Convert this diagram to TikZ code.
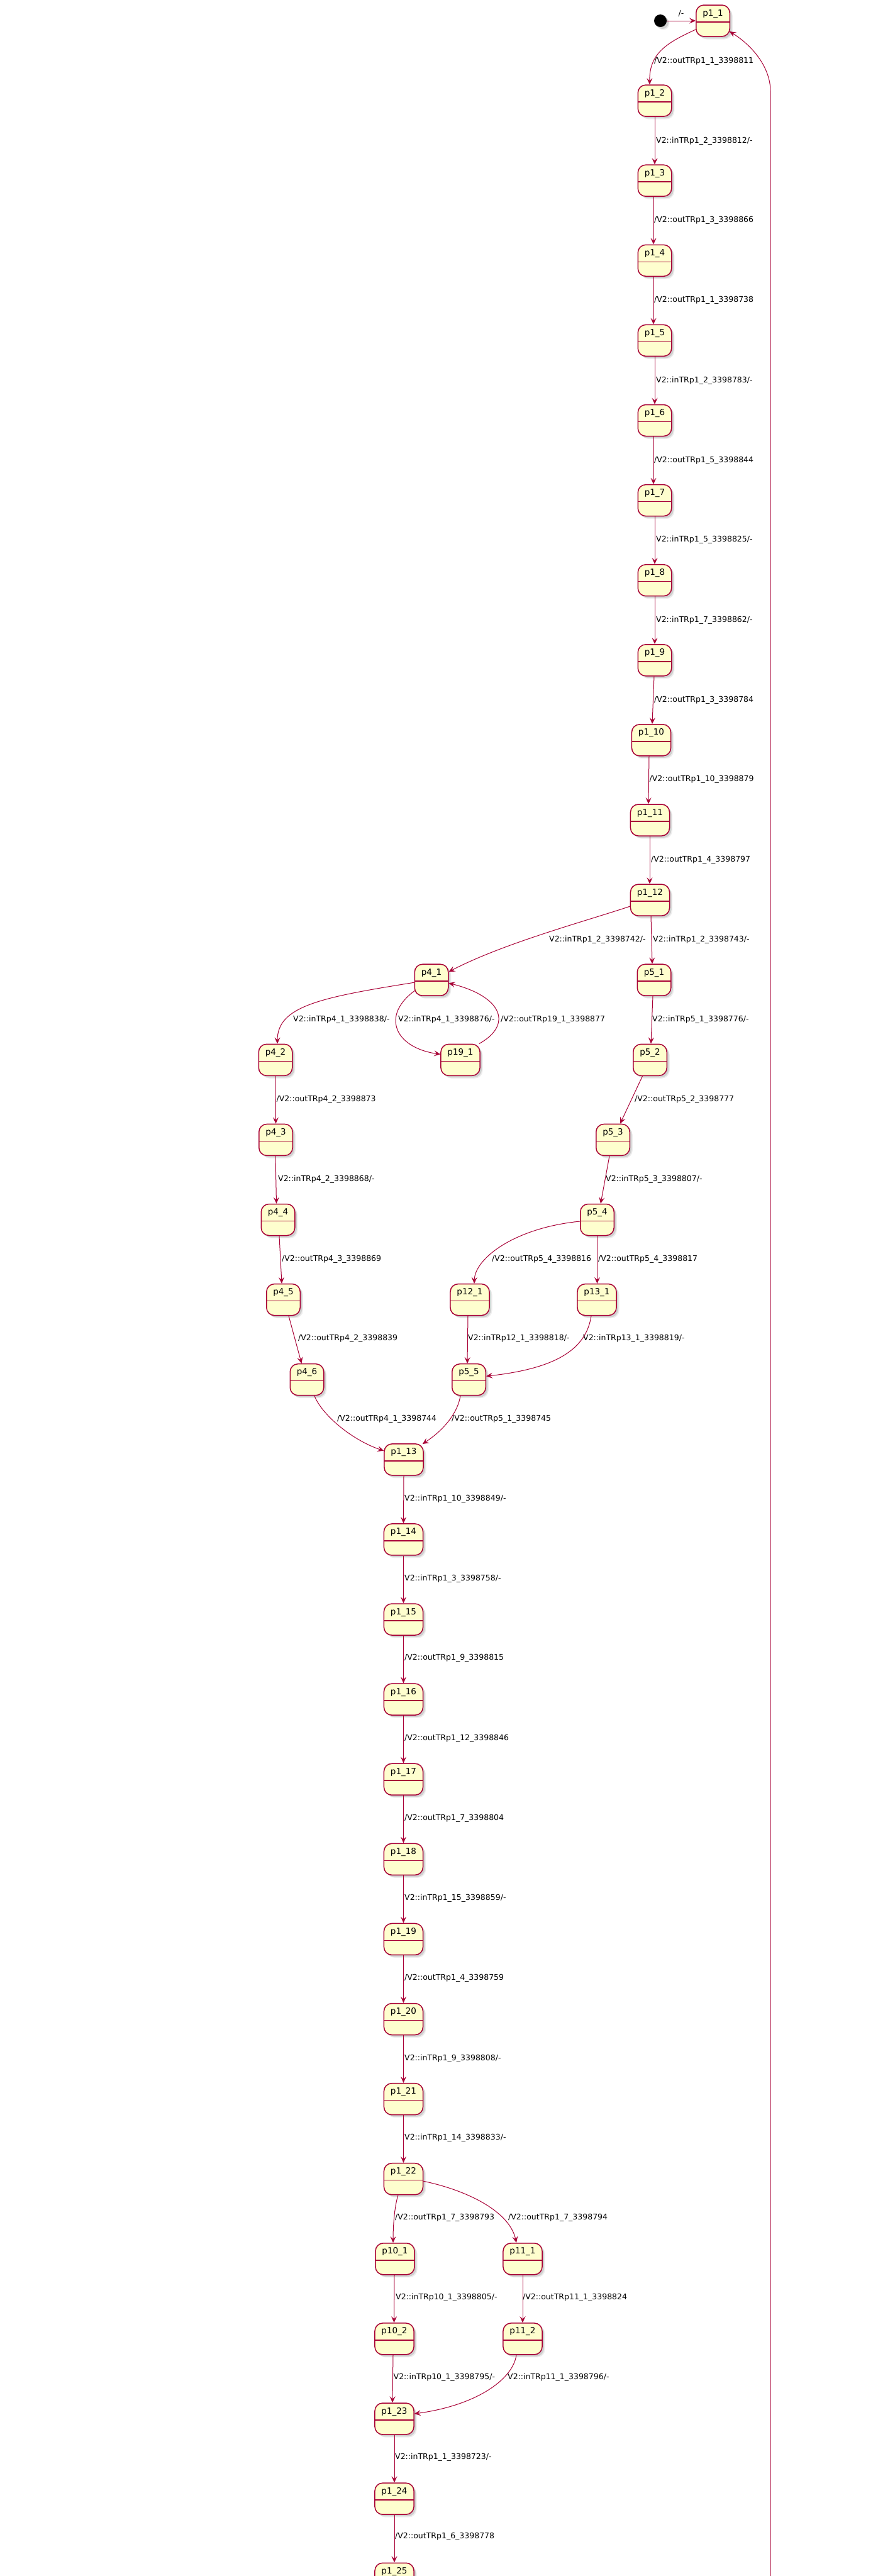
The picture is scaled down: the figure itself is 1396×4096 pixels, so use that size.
\documentclass[tikz,border=0pt]{standalone}
\usepackage{fontspec}
\setmainfont{DejaVu Sans}
\usetikzlibrary{arrows.meta,shadows}
\definecolor{umlred}{HTML}{A80036}
\definecolor{umlfill}{HTML}{FEFECE}

\tikzset{
  softshadow/.style={
    drop shadow={shadow xshift=4.5pt, shadow yshift=-4.5pt, fill=black, opacity=0.07},
    drop shadow={shadow xshift=3pt, shadow yshift=-3pt, fill=black, opacity=0.12}},
  umlstate/.style={draw=umlred, line width=1.5pt, fill=umlfill, rounded corners=12.5pt,
    inner xsep=10.5pt, inner ysep=0pt, text height=17pt, text depth=33pt,
    font=\fontsize{13.5}{16}\selectfont, softshadow,
    path picture={\draw[umlred, line width=1.5pt]
      ([yshift=-27pt]path picture bounding box.north west) --
      ([yshift=-27pt]path picture bounding box.north east);}},
  startdot/.style={circle, fill=black, minimum size=20pt, inner sep=0pt, softshadow},
  trans/.style={draw=umlred, line width=1pt, -{Stealth[length=10pt, width=9pt, inset=4pt]}},
  tlabel/.style={anchor=west, inner sep=0pt, font=\fontsize{12.5}{15}\selectfont,
    text height=9.5pt, text depth=2.5pt},
}

\begin{document}
\begin{tikzpicture}[x=1pt, y=-1pt]
\useasboundingbox (0,0) rectangle (1396,4096);
\fill[white] (0,0) rectangle (1396,4096);
\clip (0,0) rectangle (1396,4096);

% ---------- states ----------
\node[startdot] (start) at (1050,33) {};
\node[umlstate] (p1-1)  at (1133.5,33)    {p1\_1};
\node[umlstate] (p1-2)  at (1041,160.1)   {p1\_2};
\node[umlstate] (p1-3)  at (1041,287.2)   {p1\_3};
\node[umlstate] (p1-4)  at (1041,414.3)   {p1\_4};
\node[umlstate] (p1-5)  at (1041,541.4)   {p1\_5};
\node[umlstate] (p1-6)  at (1041,668.5)   {p1\_6};
\node[umlstate] (p1-7)  at (1041,795.6)   {p1\_7};
\node[umlstate] (p1-8)  at (1041,922.7)   {p1\_8};
\node[umlstate] (p1-9)  at (1041,1049.8)  {p1\_9};
\node[umlstate] (p1-10) at (1035.5,1176.9) {p1\_10};
\node[umlstate] (p1-11) at (1033.5,1304)  {p1\_11};
\node[umlstate] (p1-12) at (1033.5,1431.1) {p1\_12};
\node[umlstate] (p4-1)  at (686,1558.2)   {p4\_1};
\node[umlstate] (p5-1)  at (1040,1558.2)  {p5\_1};
\node[umlstate] (p4-2)  at (438,1685.3)   {p4\_2};
\node[umlstate] (p19-1) at (732,1685.3)   {p19\_1};
\node[umlstate] (p5-2)  at (1033.5,1685.3) {p5\_2};
\node[umlstate] (p4-3)  at (438.5,1812.4) {p4\_3};
\node[umlstate] (p5-3)  at (974.5,1812.4) {p5\_3};
\node[umlstate] (p4-4)  at (442,1939.5)   {p4\_4};
\node[umlstate] (p5-4)  at (949.5,1939.5) {p5\_4};
\node[umlstate] (p4-5)  at (450.5,2066.6) {p4\_5};
\node[umlstate] (p12-1) at (747,2066.6)   {p12\_1};
\node[umlstate] (p13-1) at (949,2066.6)   {p13\_1};
\node[umlstate] (p4-6)  at (488,2193.7)   {p4\_6};
\node[umlstate] (p5-5)  at (745.5,2193.7) {p5\_5};
\node[umlstate] (p1-13) at (642,2320.8)   {p1\_13};
\node[umlstate] (p1-14) at (641.5,2447.9) {p1\_14};
\node[umlstate] (p1-15) at (641.5,2575)   {p1\_15};
\node[umlstate] (p1-16) at (641.5,2702.1) {p1\_16};
\node[umlstate] (p1-17) at (641.5,2829.2) {p1\_17};
\node[umlstate] (p1-18) at (641.5,2956.3) {p1\_18};
\node[umlstate] (p1-19) at (641.5,3083.4) {p1\_19};
\node[umlstate] (p1-20) at (641.5,3210.5) {p1\_20};
\node[umlstate] (p1-21) at (641.5,3337.6) {p1\_21};
\node[umlstate] (p1-22) at (641.5,3464.7) {p1\_22};
\node[umlstate] (p10-1) at (628,3591.8)   {p10\_1};
\node[umlstate] (p11-1) at (831,3591.8)   {p11\_1};
\node[umlstate] (p10-2) at (627,3718.9)   {p10\_2};
\node[umlstate] (p11-2) at (831,3718.9)   {p11\_2};
\node[umlstate] (p1-23) at (627,3846)     {p1\_23};
\node[umlstate] (p1-24) at (627,3973.1)   {p1\_24};
\node[umlstate] (p1-25) at (627,4100.2)   {p1\_25};
\coordinate (loopfoot) at (1225,4120);

% ---------- transitions ----------
\draw[trans] (start.east) -- (p1-1.west);
\draw[trans] ([yshift=-14pt]p1-1.west) .. controls (1060,68) and (1032,85) .. ([xshift=-8pt]p1-2.north);
\draw[trans] (loopfoot) -- (1225,145) .. controls (1225,110) and (1200,75) .. ([xshift=-1pt,yshift=-17pt]p1-1.east);
\draw[trans] (p1-2.south) -- (p1-3.north);
\draw[trans] ([xshift=-2pt]p1-3.south) -- ([xshift=-2pt]p1-4.north);
\draw[trans] ([xshift=-2pt]p1-4.south) -- ([xshift=-2pt]p1-5.north);
\draw[trans] (p1-5.south) -- (p1-6.north);
\draw[trans] ([xshift=-2pt]p1-6.south) -- ([xshift=-2pt]p1-7.north);
\draw[trans] (p1-7.south) -- (p1-8.north);
\draw[trans] (p1-8.south) -- (p1-9.north);
\draw[trans] ([xshift=-1pt]p1-9.south) -- ([xshift=1.5pt]p1-10.north);
\draw[trans] ([xshift=-3.5pt]p1-10.south) -- ([xshift=-2.5pt]p1-11.north);
\draw[trans] ([xshift=-0.5pt]p1-11.south) -- ([xshift=-0.5pt]p1-12.north);
\draw[trans] ([yshift=-10pt]p1-12.west) .. controls (930,1465) and (800,1500) .. ([yshift=13pt]p4-1.east);
\draw[trans] ([xshift=1.5pt]p1-12.south) -- ([xshift=-3pt]p5-1.north);
\draw[trans] ([yshift=-4pt]p4-1.west) .. controls (509,1586) and (441,1600) .. ([xshift=3pt]p4-2.north);
\draw[trans] ([xshift=1pt,yshift=-17pt]p4-1.west) .. controls (605,1615) and (628,1666) .. ([yshift=9pt]p19-1.west);
\draw[trans] ([xshift=-2pt]p19-1.north east) .. controls (815,1630) and (800,1585) .. ([yshift=-5pt]p4-1.east);
\draw[trans] ([xshift=-2pt]p5-1.south) -- ([xshift=1.5pt]p5-2.north);
\draw[trans] (p4-2.south) -- (p4-3.north);
\draw[trans] ([xshift=-12pt]p5-2.south) -- ([xshift=11.5pt]p5-3.north);
\draw[trans] ([xshift=-0.5pt]p4-3.south) -- ([xshift=-2.5pt]p4-4.north);
\draw[trans] ([xshift=-5.5pt]p5-3.south) -- ([xshift=5.5pt]p5-4.north);
\draw[trans] ([xshift=2pt]p4-4.south) -- ([xshift=-2.5pt]p4-5.north);
\draw[trans] ([yshift=-2.5pt]p5-4.west) .. controls (820,1952) and (755,2000) .. ([xshift=7pt]p12-1.north);
\draw[trans] (p5-4.south) -- ([xshift=0.5pt]p13-1.north);
\draw[trans] ([xshift=8.5pt]p4-5.south) -- ([xshift=-8.5pt]p4-6.north);
\draw[trans] ([xshift=-3pt]p12-1.south) -- ([xshift=-2.5pt]p5-5.north);
\draw[trans] ([xshift=-9pt]p13-1.south) .. controls (932,2145) and (885,2176) .. ([yshift=5.5pt]p5-5.east);
\draw[trans] ([xshift=12pt]p4-6.south) .. controls (512,2250) and (560,2290) .. ([yshift=14pt]p1-13.west);
\draw[trans] ([xshift=-13.5pt]p5-5.south) .. controls (728,2245) and (708,2272) .. ([xshift=-2pt,yshift=-1pt]p1-13.north east);
\draw[trans] (p1-13.south) -- (p1-14.north);
\draw[trans] (p1-14.south) -- (p1-15.north);
\draw[trans] (p1-15.south) -- (p1-16.north);
\draw[trans] (p1-16.south) -- (p1-17.north);
\draw[trans] (p1-17.south) -- (p1-18.north);
\draw[trans] (p1-18.south) -- (p1-19.north);
\draw[trans] (p1-19.south) -- (p1-20.north);
\draw[trans] (p1-20.south) -- (p1-21.north);
\draw[trans] (p1-21.south) -- (p1-22.north);
\draw[trans] ([xshift=-8.5pt]p1-22.south) .. controls (628,3505) and (625,3535) .. ([xshift=-3pt]p10-1.north);
\draw[trans] ([yshift=-3.5pt]p1-22.east) .. controls (740,3482) and (810,3515) .. ([xshift=-10pt]p11-1.north);
\draw[trans] ([xshift=-1pt]p10-1.south) -- ([xshift=-0.5pt]p10-2.north);
\draw[trans] (p11-1.south) -- (p11-2.north);
\draw[trans] ([xshift=-2pt]p10-2.south) -- ([xshift=-3pt]p1-23.north);
\draw[trans] ([xshift=-10pt]p11-2.south) .. controls (815,3785) and (755,3825) .. ([yshift=8pt]p1-23.east);
\draw[trans] (p1-23.south) -- (p1-24.north);
\draw[trans] (p1-24.south) -- (p1-25.north);

% ---------- transition labels ----------
\node[tlabel, anchor=center] (l00) at (1083,22) {/-};
\node[tlabel] (l01) at (1040,97)   {/V2::outTRp1\_1\_3398811};
\node[tlabel] (l02) at (1043,224)  {V2::inTRp1\_2\_3398812/-};
\node[tlabel] (l03) at (1040,350)  {/V2::outTRp1\_3\_3398866};
\node[tlabel] (l04) at (1040,477)  {/V2::outTRp1\_1\_3398738};
\node[tlabel] (l05) at (1043,605)  {V2::inTRp1\_2\_3398783/-};
\node[tlabel] (l06) at (1040,732)  {/V2::outTRp1\_5\_3398844};
\node[tlabel] (l07) at (1043,858)  {V2::inTRp1\_5\_3398825/-};
\node[tlabel] (l08) at (1043,986)  {V2::inTRp1\_7\_3398862/-};
\node[tlabel] (l09) at (1040,1113) {/V2::outTRp1\_3\_3398784};
\node[tlabel] (l10) at (1032.5,1239) {/V2::outTRp1\_10\_3398879};
\node[tlabel] (l11) at (1035,1367) {/V2::outTRp1\_4\_3398797};
\node[tlabel] (l12) at (873,1494)  {V2::inTRp1\_2\_3398742/-};
\node[tlabel] (l13) at (1038,1494) {V2::inTRp1\_2\_3398743/-};
\node[tlabel] (l14) at (466,1621)  {V2::inTRp4\_1\_3398838/-};
\node[tlabel] (l15) at (633,1621)  {V2::inTRp4\_1\_3398876/-};
\node[tlabel] (l16) at (796,1621)  {/V2::outTRp19\_1\_3398877};
\node[tlabel] (l17) at (1037,1621) {V2::inTRp5\_1\_3398776/-};
\node[tlabel] (l18) at (439.5,1748) {/V2::outTRp4\_2\_3398873};
\node[tlabel] (l19) at (1009,1748) {/V2::outTRp5\_2\_3398777};
\node[tlabel] (l20) at (442,1875)  {V2::inTRp4\_2\_3398868/-};
\node[tlabel] (l21) at (963,1875)  {V2::inTRp5\_3\_3398807/-};
\node[tlabel] (l22) at (448,2002)  {/V2::outTRp4\_3\_3398869};
\node[tlabel] (l23) at (782,2002)  {/V2::outTRp5\_4\_3398816};
\node[tlabel] (l24) at (951,2002)  {/V2::outTRp5\_4\_3398817};
\node[tlabel] (l25) at (474,2128)  {/V2::outTRp4\_2\_3398839};
\node[tlabel] (l26) at (744,2128)  {V2::inTRp12\_1\_3398818/-};
\node[tlabel] (l27) at (927,2128)  {V2::inTRp13\_1\_3398819/-};
\node[tlabel] (l28) at (536,2256)  {/V2::outTRp4\_1\_3398744};
\node[tlabel] (l29) at (718,2256)  {/V2::outTRp5\_1\_3398745};
\node[tlabel] (l30) at (643,2383)  {V2::inTRp1\_10\_3398849/-};
\node[tlabel] (l31) at (643,2510)  {V2::inTRp1\_3\_3398758/-};
\node[tlabel] (l32) at (643,2636)  {/V2::outTRp1\_9\_3398815};
\node[tlabel] (l33) at (643,2764)  {/V2::outTRp1\_12\_3398846};
\node[tlabel] (l34) at (643,2891)  {/V2::outTRp1\_7\_3398804};
\node[tlabel] (l35) at (643,3018)  {V2::inTRp1\_15\_3398859/-};
\node[tlabel] (l36) at (643,3145)  {/V2::outTRp1\_4\_3398759};
\node[tlabel] (l37) at (643,3273)  {V2::inTRp1\_9\_3398808/-};
\node[tlabel] (l38) at (643,3399)  {V2::inTRp1\_14\_3398833/-};
\node[tlabel] (l39) at (628,3526)  {/V2::outTRp1\_7\_3398793};
\node[tlabel] (l40) at (808,3526)  {/V2::outTRp1\_7\_3398794};
\node[tlabel] (l41) at (629,3653)  {V2::inTRp10\_1\_3398805/-};
\node[tlabel] (l42) at (831,3653)  {/V2::outTRp11\_1\_3398824};
\node[tlabel] (l43) at (625.5,3780) {V2::inTRp10\_1\_3398795/-};
\node[tlabel] (l44) at (807,3780)  {V2::inTRp11\_1\_3398796/-};
\node[tlabel] (l45) at (628,3907)  {V2::inTRp1\_1\_3398723/-};
\node[tlabel] (l46) at (628,4033)  {/V2::outTRp1\_6\_3398778};
\end{tikzpicture}
\end{document}
